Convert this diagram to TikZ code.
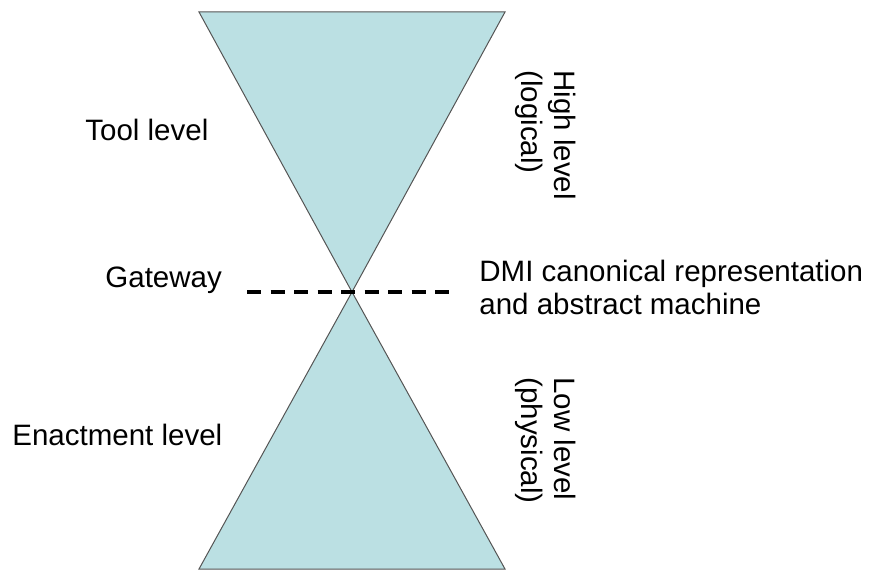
\documentclass[tikz,border=0pt]{standalone}
\usepackage{fontspec}
\setmainfont{Liberation Sans}
\usetikzlibrary{positioning}

\definecolor{conefill}{RGB}{187,224,227}
\definecolor{coneedge}{RGB}{85,85,85}

\begin{document}
\begin{tikzpicture}[x=0.5pt,y=0.5pt,
                    cone/.style={fill=conefill, draw=coneedge, line width=0.5pt, line join=miter},
                    gateline/.style={line width=1.6pt, dash pattern=on 7pt off 4.75pt},
                    leveltext/.style={font=\fontsize{14.75}{16.5}\selectfont, inner sep=0pt},
                    sidetext/.style={leveltext, rotate=-90, align=left, anchor=north west},
                   ]
    \useasboundingbox (0,0) rectangle (879,569);

    %   %Cones
    \coordinate (apex) at (352,277);
    \coordinate (tl)   at (199,557);
    \coordinate (tr)   at (505,557);
    \coordinate (bl)   at (199,0);
    \coordinate (br)   at (505,0);
    \draw[cone] (tl) -- (tr) -- (apex) -- cycle;
    \draw[cone] (apex) -- (bl) -- (br) -- cycle;

    %   %Gateway line
    \coordinate (gl) at (247,277);
    \coordinate (gr) at (450,277);
    \draw[gateline] (gl) -- (gr);

    %   %Labels
    \node[leveltext, anchor=base west] (tool)  at (85,429)  {Tool level};
    \node[leveltext, anchor=base west] (gate)  at (105,282) {Gateway};
    \node[leveltext, anchor=base west] (enact) at (12,124)  {Enactment level};
    \node[leveltext, align=left, anchor=north west] (dmi) at (479,309)
        {DMI canonical representation\\and abstract machine};
    \node[sidetext] (high) at (576,499) {High level\\(logical)};
    \node[sidetext] (low)  at (576,192) {Low level\\(physical)};
\end{tikzpicture}
\end{document}
